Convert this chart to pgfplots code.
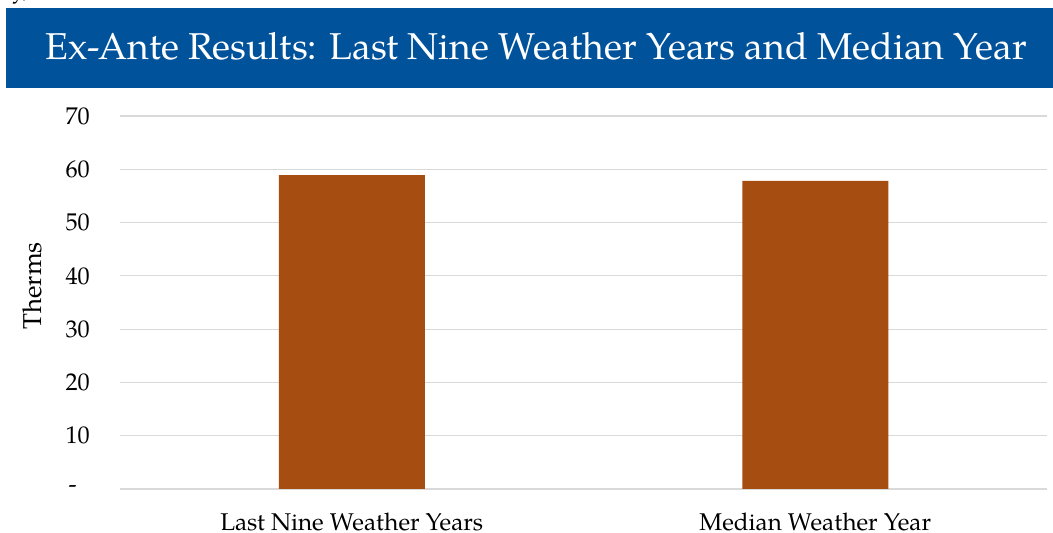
\documentclass[border=0pt]{standalone}
\usepackage{pgfplots}
\pgfplotsset{compat=1.18}
\usepackage{fontspec}
\setmainfont{TeX Gyre Pagella}
\definecolor{banner}{RGB}{0,82,155}
\definecolor{barc}{RGB}{166,78,17}
\definecolor{gridc}{RGB}{217,217,217}
\begin{document}
\begin{tikzpicture}[x=1bp,y=1bp]
\path[use as bounding box] (0,0) rectangle (1053,533);
\fill[banner] (6,445) rectangle (1053,525);
\node[anchor=base, text=white, font=\fontsize{37.5}{40}\selectfont, inner sep=0] at (536,473) {Ex-Ante Results: Last Nine Weather Years and Median Year};
\node[anchor=base west, inner sep=0, font=\fontsize{24}{26}\selectfont] at (12,535) {y,};
\begin{axis}[
  at={(120bp,44bp)}, anchor=south west,
  scale only axis, width=927bp, height=373bp,
  xmin=-0.5, xmax=1.5, ymin=0, ymax=70,
  ytick={0,10,...,70},
  yticklabels={{-\kern13bp},10,20,30,40,50,60,70},
  xtick={0,1},
  xticklabels={Last Nine Weather Years, Median Weather Year},
  axis line style={draw=none},
  major tick length=0pt,
  ymajorgrids,
  grid style={draw=gridc, line width=1.2bp},
  ybar, bar width=146bp,
  tick label style={font=\fontsize{24.3}{26}\selectfont, inner sep=0pt},
  yticklabel style={anchor=east, xshift=-30bp},
  xticklabel style={anchor=base, yshift=-42bp},
  clip=false,
]
\addplot[fill=barc, draw=none] coordinates {(0,58.9) (1,57.8)};
\end{axis}
\node[rotate=90, font=\fontsize{26}{28}\selectfont, inner sep=0] at (32,247) {Therms};
\end{tikzpicture}
\end{document}
